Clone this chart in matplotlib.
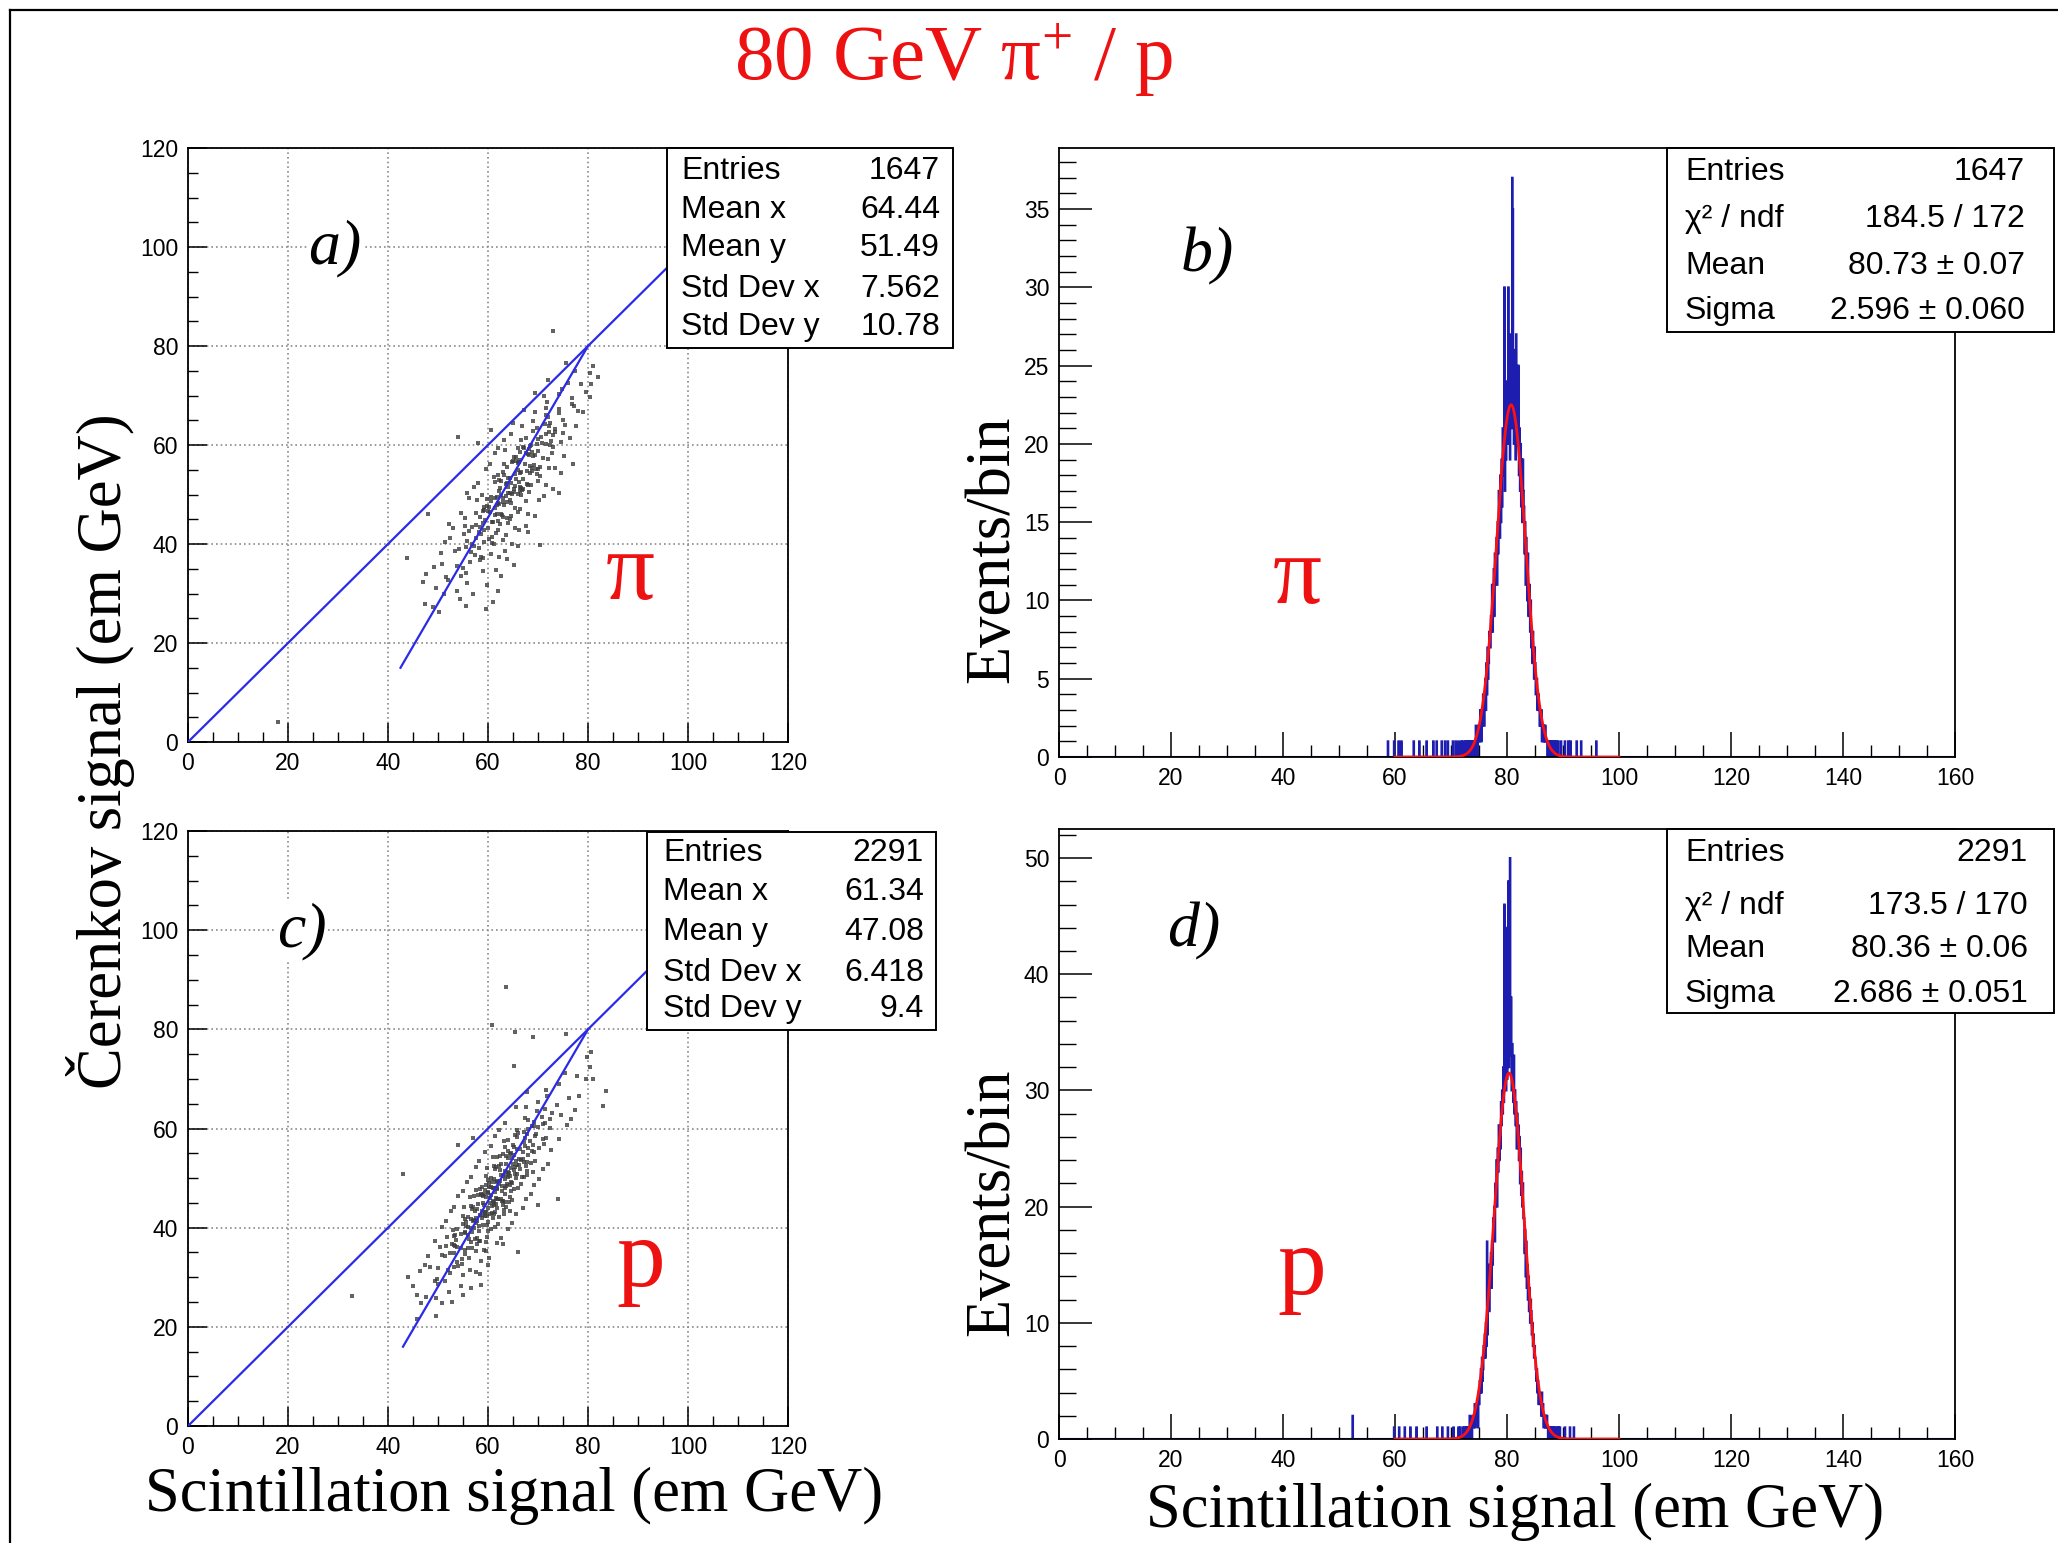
import numpy as np
import matplotlib
matplotlib.use('Agg')
import matplotlib.pyplot as plt
from matplotlib.ticker import MultipleLocator
from matplotlib.patches import Rectangle
from matplotlib.lines import Line2D

W, H = 2058, 1543
SERIF = 'Liberation Serif'
SANS = 'Liberation Sans'

plt.rcParams['font.family'] = SANS
plt.rcParams['mathtext.fontset'] = 'custom'
plt.rcParams['mathtext.rm'] = SERIF
plt.rcParams['mathtext.it'] = SERIF + ':italic'

# ---------------- data ----------------
# a) pion scatter, (scintillation, cerenkov) in em GeV
scatter_pi = [
    (50.2, 26.3), (48.9, 27.3), (54.3, 28.9), (51.2, 29.8), (53.8, 30.6), (49.5, 31.1), (55.8, 32.1), (51.9, 32.8),
    (54.5, 33.6), (59.0, 34.5), (51.5, 33.4), (55.6, 34.2),
    (55.0, 35.2), (58.4, 36.7), (50.8, 35.9), (56.3, 36.4), (53.7, 35.5),
    (60.6, 38.0), (56.5, 38.3), (58.6, 37.3), (54.1, 38.9), (57.3, 37.8), (53.4, 38.6), (58.9, 37.1),
    (56.7, 40.1), (63.0, 40.8), (57.1, 39.6), (59.2, 40.5), (55.5, 39.4), (60.8, 40.2), (58.2, 39.2), (55.7, 40.7), (61.1, 39.9),
    (58.1, 42.4), (60.7, 41.5), (55.2, 42.0), (61.5, 42.3), (57.6, 41.3), (59.1, 42.9), (63.6, 41.8), (56.1, 42.6), (60.2, 41.1),
    (58.5, 42.1), (61.9, 42.8),
    (55.4, 43.6), (60.9, 44.5), (58.3, 43.4), (64.0, 44.2), (59.9, 43.2), (62.0, 44.7), (57.5, 43.9), (60.7, 44.4), (56.8, 43.5),
    (62.3, 44.0), (59.0, 44.3), (65.3, 43.3), (59.4, 44.9),
    (62.7, 45.8), (59.0, 46.6), (64.3, 45.1), (61.7, 46.1), (59.2, 46.8), (64.6, 45.6), (60.4, 46.5), (63.0, 45.4), (57.5, 46.2),
    (63.8, 45.2), (59.9, 46.7), (61.4, 45.9), (65.9, 46.4), (58.4, 45.5), (62.5, 46.0),
    (61.9, 48.3), (65.3, 47.3), (57.7, 48.9), (63.2, 47.8), (60.6, 48.6), (66.3, 47.1), (62.2, 48.1), (64.3, 48.8), (59.8, 47.6),
    (63.0, 48.5), (59.1, 47.4), (64.6, 48.2), (61.3, 47.2), (67.6, 48.7), (61.7, 47.9), (63.8, 48.4), (60.1, 47.5),
    (66.5, 50.0), (63.9, 50.3), (61.4, 49.3), (66.8, 50.9), (62.6, 49.8), (65.2, 50.6), (59.7, 49.1), (66.0, 50.1), (62.1, 50.8),
    (63.6, 49.6), (68.1, 50.5), (60.6, 49.4), (64.7, 50.2), (63.0, 49.2), (66.4, 50.7), (58.8, 49.9), (64.3, 50.4), (61.7, 49.5),
    (68.6, 52.0), (64.5, 52.3), (66.6, 51.3), (62.1, 52.9), (65.3, 51.8), (61.4, 52.6), (66.9, 51.1), (63.6, 52.1), (69.9, 52.8),
    (64.0, 51.6), (66.1, 52.5), (62.4, 51.4), (67.7, 52.2), (65.1, 51.2), (62.6, 52.7), (68.0, 51.9), (63.8, 52.4), (66.4, 51.5),
    (62.0, 54.0), (68.3, 54.3), (64.4, 53.3), (65.9, 54.9), (70.4, 53.8), (62.9, 54.6), (67.0, 53.1), (65.3, 54.1), (68.7, 54.8),
    (61.1, 53.6), (66.6, 54.5), (64.0, 53.4), (69.7, 54.2), (65.6, 53.2), (67.7, 54.7), (63.2, 53.9), (66.4, 54.4),
    (63.7, 55.5), (69.2, 56.0), (65.9, 56.3), (72.2, 55.3), (66.3, 56.9), (68.4, 55.8), (64.7, 56.6), (70.0, 55.1), (67.4, 56.1),
    (64.9, 56.8), (70.3, 55.6), (66.1, 56.5), (68.7, 55.4), (63.2, 56.2), (69.5, 55.2), (65.6, 56.7),
    (68.2, 57.9), (72.7, 58.4), (65.2, 57.5), (69.3, 58.0), (67.6, 58.3), (71.0, 57.3), (63.4, 58.9), (68.9, 57.8), (66.3, 58.6),
    (72.0, 57.1), (67.9, 58.1), (70.0, 58.8), (65.5, 57.6), (68.7, 58.5),
    (66.0, 59.4), (71.5, 60.2), (68.2, 59.2), (74.5, 60.7), (68.6, 59.9), (70.7, 60.4), (67.0, 59.5), (72.3, 60.0), (69.7, 60.3),
    (67.2, 59.3), (72.6, 60.9), (68.4, 59.8),
    (72.1, 62.6), (66.6, 61.1), (72.9, 62.1), (69.0, 62.8), (70.5, 61.6), (75.0, 62.5), (67.5, 61.4), (71.6, 62.2), (69.9, 61.2),
    (73.3, 62.7),
    (66.8, 63.9), (72.3, 64.4), (69.7, 63.5), (75.4, 64.0), (71.3, 64.3), (73.4, 63.3), (68.9, 64.9), (72.1, 63.8),
    (69.4, 66.6), (74.9, 65.1), (71.6, 66.1), (77.9, 66.8), (72.0, 65.6), (74.1, 66.5),
    (71.5, 67.4), (76.8, 68.2), (74.2, 67.2), (71.7, 68.7), (77.1, 67.9),
    (74.1, 70.4), (76.7, 69.5), (71.2, 70.0),
    (78.6, 72.3), (74.7, 71.3), (77.4, 74.9), (81.9, 73.8), (75.5, 76.6),
    (80.3, 74.6), (80.6, 72.4), (79.6, 70.8),
    # wider halo around the core
    (47.0, 32.4), (59.8, 31.7), (49.2, 35.3), (61.5, 34.8), (47.5, 34.0), (50.5, 38.2), (63.4, 38.6), (62.2, 37.4),
    (51.3, 40.4), (64.7, 40.0), (52.4, 41.2), (65.9, 39.5), (53.0, 43.2), (66.2, 42.9), (52.2, 44.1), (67.6, 43.7),
    (54.6, 46.3), (68.0, 46.0), (55.4, 45.2), (69.3, 45.7), (56.1, 49.2), (70.2, 48.8), (55.7, 50.3), (71.1, 49.6),
    (58.0, 52.4), (71.6, 52.0), (57.2, 51.5), (72.9, 51.2), (59.5, 55.1), (73.4, 55.4), (60.3, 56.2), (74.6, 54.3),
    (61.4, 58.3), (75.1, 57.8), (62.0, 59.4), (63.2, 61.0), (76.3, 61.5), (64.5, 62.3), (65.0, 64.5), (77.6, 63.8),
    (67.2, 67.0), (79.0, 66.6), (69.3, 70.5), (80.4, 69.7), (72.0, 73.2), (80.9, 75.9),
    (57.0, 30.0), (55.5, 27.5), (62.0, 30.5), (63.8, 37.0), (68.0, 42.5), (58.0, 60.5), (60.5, 63.0), (76.0, 72.5),
    # isolated events
    (73.0, 83.1), (53.9, 61.7), (47.9, 46.1), (43.7, 37.2), (18.0, 4.0), (60.9, 28.3), (59.6, 26.8), (76.9, 56.2),
    (74.2, 50.3), (70.4, 39.8), (65.2, 35.7), (73.0, 59.6), (47.3, 27.8), (62.6, 33.6),
]

# c) proton scatter
scatter_p = [
    (45.8, 21.5), (50.8, 24.8), (49.5, 25.9), (45.7, 26.4), (52.2, 27.1), (50.0, 28.6), (54.5, 28.2),
    (49.3, 29.3), (52.4, 30.9), (49.8, 29.7), (54.9, 30.5), (51.4, 29.2),
    (48.4, 32.1), (54.7, 32.7), (51.9, 31.4), (54.0, 32.3), (49.9, 31.8), (53.2, 32.0), (56.4, 31.5),
    (52.3, 34.8), (56.1, 33.9), (50.8, 34.4), (53.8, 33.1), (55.4, 34.6), (51.3, 34.2), (58.6, 33.3), (53.2, 34.9), (54.8, 33.7),
    (53.1, 36.5), (57.6, 35.2), (53.8, 36.1), (57.7, 36.7), (55.3, 35.4), (51.5, 36.3), (56.8, 35.8), (54.6, 36.0), (59.1, 35.5),
    (52.8, 36.8), (55.9, 35.9), (53.3, 36.4),
    (59.5, 37.1), (56.0, 38.6), (51.8, 38.2), (58.1, 37.3), (55.3, 38.9), (57.4, 37.7), (53.3, 38.5), (56.6, 37.2), (59.8, 38.1),
    (54.6, 38.7), (58.4, 37.4), (53.1, 38.3), (56.1, 37.8), (57.7, 38.0), (53.6, 37.5),
    (62.0, 40.8), (56.6, 39.9), (58.2, 40.4), (55.3, 39.1), (59.8, 40.6), (56.0, 40.2), (59.9, 39.3), (57.5, 40.9), (53.7, 39.7),
    (59.0, 40.5), (56.8, 39.2), (61.3, 40.1), (55.0, 40.7), (58.1, 39.4), (55.5, 40.3), (60.6, 39.8), (57.1, 40.0), (52.9, 39.5),
    (60.4, 42.8), (57.6, 41.9), (59.7, 42.4), (55.6, 41.1), (58.9, 42.6), (62.1, 42.2), (56.9, 41.3), (60.7, 42.9), (55.4, 41.7),
    (58.4, 42.5), (60.0, 41.2), (55.9, 42.1), (63.2, 42.7), (57.8, 41.4), (59.4, 42.3), (56.5, 41.8), (61.0, 42.0), (57.2, 41.5),
    (61.1, 42.8), (58.7, 41.9), (54.9, 42.4),
    (61.3, 43.1), (59.1, 44.6), (63.6, 44.2), (57.3, 43.3), (60.4, 44.9), (57.8, 43.7), (62.9, 44.5), (59.4, 43.2), (55.2, 44.1),
    (61.5, 44.7), (58.7, 43.4), (60.8, 44.3), (56.7, 43.8), (60.0, 44.0), (63.2, 43.5), (58.0, 44.8), (61.8, 43.9), (56.5, 44.4),
    (59.5, 43.1), (61.1, 44.6), (57.0, 44.2), (64.3, 43.3), (58.9, 44.9),
    (61.7, 45.7), (58.8, 46.5), (63.3, 45.2), (59.5, 46.1), (63.4, 46.7), (61.0, 45.4), (57.2, 46.3), (62.5, 45.8), (60.3, 46.0),
    (64.8, 45.5), (58.5, 46.8), (61.6, 45.9), (59.0, 46.4), (64.1, 45.1), (60.6, 46.6), (56.4, 46.2), (62.7, 45.3), (59.9, 46.9),
    (62.0, 45.7), (57.9, 46.5), (61.2, 45.2), (64.4, 46.1), (59.2, 46.7), (63.0, 45.4),
    (58.8, 48.3), (61.8, 47.8), (63.4, 48.0), (59.3, 47.5), (66.6, 48.8), (61.2, 47.9), (62.8, 48.4), (59.9, 47.1), (64.4, 48.6),
    (60.6, 48.2), (64.5, 47.3), (62.1, 48.9), (58.3, 47.7), (63.6, 48.5), (61.4, 47.2), (65.9, 48.1), (59.6, 48.7), (62.7, 47.4),
    (60.1, 48.3), (65.2, 47.8), (61.7, 48.0), (57.5, 47.5), (63.8, 48.8), (61.0, 47.9),
    (64.3, 50.4), (60.2, 49.1), (63.5, 50.6), (66.7, 50.2), (61.5, 49.3), (65.3, 50.9), (60.0, 49.7), (63.0, 50.5), (64.6, 49.2),
    (60.5, 50.1), (67.8, 50.7), (62.4, 49.4), (64.0, 50.3), (61.1, 49.8), (65.6, 50.0), (61.8, 49.5), (65.7, 50.8), (63.3, 49.9),
    (59.5, 50.4), (64.8, 49.1), (62.6, 50.6), (67.1, 50.2), (60.8, 49.3),
    (65.0, 52.9), (62.4, 51.7), (67.5, 52.5), (64.0, 51.2), (59.8, 52.1), (66.1, 52.7), (63.3, 51.4), (65.4, 52.3), (61.3, 51.8),
    (64.6, 52.0), (67.8, 51.5), (62.6, 52.8), (66.4, 51.9), (61.1, 52.4), (64.1, 51.1), (65.7, 52.6), (61.6, 52.2), (68.9, 51.3),
    (63.5, 52.9), (65.1, 51.7), (62.2, 52.5),
    (67.8, 53.2), (64.0, 54.1), (67.9, 54.7), (65.5, 53.4), (61.7, 54.3), (67.0, 53.8), (64.8, 54.0), (69.3, 53.5), (63.0, 54.8),
    (66.1, 53.9), (63.5, 54.4), (68.6, 53.1), (65.1, 54.6), (60.9, 54.2), (67.2, 53.3), (64.4, 54.9), (66.5, 53.7), (62.4, 54.5),
    (66.9, 55.2), (70.1, 56.1), (64.9, 56.7), (68.7, 55.4), (63.4, 56.3), (66.4, 55.8), (68.0, 56.0), (63.9, 55.5), (71.2, 56.8),
    (65.8, 55.9), (67.4, 56.4), (64.5, 55.1), (69.0, 56.6), (65.2, 56.2), (69.1, 55.3),
    (67.8, 58.9), (64.0, 57.7), (69.3, 58.5), (67.1, 57.2), (71.6, 58.1), (65.3, 58.7), (68.4, 57.4), (65.8, 58.3), (70.9, 57.8),
    (67.4, 58.0), (63.2, 57.5), (69.5, 58.8),
    (67.9, 59.9), (70.0, 60.4), (65.9, 59.1), (69.2, 60.6), (72.4, 60.2), (67.2, 59.3), (71.0, 60.9), (65.7, 59.7), (68.7, 60.5),
    (71.4, 61.2), (67.3, 62.1), (74.6, 62.7), (69.2, 61.4), (70.8, 62.3), (67.9, 61.8), (72.4, 62.0),
    (69.8, 63.5), (73.7, 64.8), (71.3, 63.9), (67.5, 64.4), (72.8, 63.1),
    (71.7, 66.6), (76.2, 66.2), (69.9, 65.3), (74.1, 68.9), (71.5, 67.7), (77.8, 70.5), (75.4, 71.2), (79.8, 74.5),
    # wider halo around the core
    (45.0, 28.3), (56.5, 27.8), (46.4, 31.2), (58.3, 30.7), (47.3, 32.5), (47.9, 34.3), (60.2, 33.8), (59.5, 35.2),
    (49.4, 37.4), (61.8, 36.9), (50.3, 36.2), (62.6, 38.0), (50.8, 40.2), (63.9, 39.7), (51.6, 41.3), (64.8, 40.9),
    (52.6, 43.3), (65.6, 42.8), (53.1, 44.2), (66.9, 43.9), (54.0, 46.4), (67.5, 45.8), (54.9, 47.3), (68.6, 46.7),
    (55.8, 49.2), (69.1, 48.7), (56.6, 50.3), (70.2, 49.8), (57.5, 52.3), (70.9, 51.8), (58.2, 53.4), (72.0, 52.9),
    (59.4, 55.2), (72.6, 55.7), (60.6, 56.5), (61.3, 58.4), (74.2, 57.9), (62.2, 59.6), (63.4, 61.2), (75.8, 60.8),
    (65.6, 64.3), (77.3, 63.7), (67.8, 67.4), (78.2, 66.5),
    (47.5, 26.0), (52.8, 25.0), (55.0, 26.5), (60.0, 32.5), (63.0, 36.8), (57.0, 58.0), (76.5, 62.0), (70.0, 44.5),
    # isolated events
    (63.5, 88.5), (60.8, 80.8), (65.3, 79.5), (69.0, 78.5), (75.5, 79.0), (80.5, 75.5), (80.3, 72.5), (79.5, 70.0),
    (83.5, 67.5), (83.0, 64.5), (81.0, 70.0), (32.7, 26.3), (42.9, 50.8), (53.9, 56.6), (65.2, 72.6), (73.9, 45.8),
    (49.6, 22.2), (65.9, 35.1), (44.0, 30.0), (46.5, 24.8), (57.5, 31.0), (58.5, 28.5),
]

# blue reference lines on the scatter plots (start/end points)
diag_pi = ([0, 96], [0, 96])
cut_pi = ([42.5, 80], [15, 80])
diag_p = ([0, 92], [0, 92])
cut_p = ([43, 80], [16, 80])

# b), d) histograms: 0.1 GeV bins, core counts from 72.0 to 90.0 GeV
bin_width = 0.1
core_start = 72.0
hist_pi_core = [
    0, 1, 0, 0, 0, 1, 0, 0, 1, 0,
    1, 0, 1, 0, 1, 0, 1, 1, 0, 1,
    1, 0, 1, 0, 2, 1, 1, 0, 2, 1,
    2, 1, 3, 2, 1, 3, 2, 4, 3, 2,
    4, 5, 3, 6, 4, 7, 5, 6, 8, 7,
    7, 9, 8, 11, 8, 10, 12, 9, 13, 11,
    12, 14, 11, 15, 13, 17, 16, 14, 18, 15,
    19, 16, 21, 18, 20, 30, 17, 22, 19, 24,
    23, 20, 30, 22, 26, 19, 27, 24, 21, 37,
    35, 24, 20, 26, 22, 19, 27, 21, 23, 20,
    25, 18, 21, 17, 20, 16, 19, 15, 19, 17,
    16, 13, 15, 11, 14, 12, 10, 13, 9, 11,
    11, 8, 10, 7, 8, 6, 8, 6, 5, 7,
    6, 4, 5, 5, 3, 4, 4, 3, 2, 3,
    2, 3, 1, 2, 2, 1, 2, 1, 2, 1,
    1, 1, 0, 1, 1, 0, 1, 0, 1, 0,
    1, 0, 0, 1, 0, 1, 0, 0, 1, 0,
    0, 1, 0, 0, 0, 0, 1, 0, 0, 0,
]
hist_pi_tail = [58.75, 59.85, 60.65, 61.15, 63.35, 64.35, 65.65, 66.85, 67.45, 68.35, 68.95,
                69.45, 70.35, 70.85, 71.35, 71.85, 90.35, 90.95, 91.35, 92.45, 93.25, 95.95]

hist_p_core = [
    0, 1, 0, 0, 1, 0, 0, 1, 0, 1,
    1, 0, 1, 2, 0, 1, 1, 0, 2, 1,
    1, 2, 3, 1, 2, 3, 2, 3, 1, 4,
    3, 5, 4, 6, 4, 7, 5, 6, 8, 7,
    9, 7, 10, 8, 17, 9, 12, 15, 11, 13,
    14, 16, 13, 17, 15, 19, 18, 20, 17, 22,
    21, 24, 20, 25, 23, 27, 24, 26, 25, 29,
    27, 30, 28, 32, 29, 46, 31, 44, 30, 34,
    31, 36, 48, 32, 35, 50, 33, 38, 30, 34,
    31, 29, 33, 28, 30, 27, 29, 25, 28, 26,
    27, 24, 26, 22, 25, 21, 23, 20, 22, 19,
    19, 16, 18, 14, 17, 13, 15, 12, 14, 11,
    13, 10, 12, 11, 9, 10, 8, 9, 7, 8,
    7, 6, 5, 6, 4, 5, 3, 4, 4, 3,
    3, 2, 4, 2, 3, 1, 2, 2, 1, 2,
    1, 2, 1, 0, 1, 1, 1, 0, 1, 0,
    1, 0, 1, 1, 0, 1, 0, 0, 0, 1,
    0, 1, 0, 0, 1, 0, 0, 0, 0, 0,
]
hist_p_tail = [52.45, 52.45, 59.85, 60.75, 61.75, 62.75, 63.85, 65.65, 67.55, 68.45, 69.45,
               70.45, 71.35, 71.65, 90.35, 91.25, 91.95]

# gaussian fit parameters (constant, mean, sigma) and fit range
fit_pi = (22.5, 80.73, 2.596)
fit_p = (31.5, 80.36, 2.686)
fit_range = (60, 100)

stats_a = [('Entries', '1647'), ('Mean x', '64.44'), ('Mean y', '51.49'),
           ('Std Dev x', '7.562'), ('Std Dev y', '10.78')]
stats_b = [('Entries', '1647'), ('χ² / ndf', '184.5 / 172'),
           ('Mean', '80.73 ± 0.07'), ('Sigma', '2.596 ± 0.060')]
stats_c = [('Entries', '2291'), ('Mean x', '61.34'), ('Mean y', '47.08'),
           ('Std Dev x', '6.418'), ('Std Dev y', '9.4')]
stats_d = [('Entries', '2291'), ('χ² / ndf', '173.5 / 170'),
           ('Mean', '80.36 ± 0.06'), ('Sigma', '2.686 ± 0.051')]


def fx(px):
    return px / W


def fy(py):
    return 1 - py / H


def style_axes(ax, xmax, ymax, xmaj, xmin, ymaj, ymin, ylen, xlen, grid=False):
    ax.set_xlim(0, xmax)
    ax.set_ylim(0, ymax)
    ax.xaxis.set_major_locator(MultipleLocator(xmaj))
    ax.xaxis.set_minor_locator(MultipleLocator(xmin))
    ax.yaxis.set_major_locator(MultipleLocator(ymaj))
    ax.yaxis.set_minor_locator(MultipleLocator(ymin))
    ax.tick_params(axis='x', which='major', direction='in', length=xlen, width=1.1, labelsize=16.5, pad=7)
    ax.tick_params(axis='x', which='minor', direction='in', length=xlen / 2, width=1.0)
    ax.tick_params(axis='y', which='major', direction='in', length=ylen, width=1.1, labelsize=16.5, pad=7)
    ax.tick_params(axis='y', which='minor', direction='in', length=ylen / 2, width=1.0)
    for sp in ax.spines.values():
        sp.set_linewidth(1.3)
    if grid:
        ax.grid(True, which='major', color='#8a8a8a', linestyle=(0, (1, 1.8)), linewidth=1.2)


def stat_box(box, rows, lab_x, val_x, row_y, fs=23):
    x0, y0, x1, y1 = box
    fig.add_artist(Rectangle((fx(x0), fy(y1)), (x1 - x0) / W, (y1 - y0) / H,
                             transform=fig.transFigure, facecolor='white',
                             edgecolor='black', linewidth=1.4, zorder=10))
    for (lab, val), yy in zip(rows, row_y):
        fig.text(fx(lab_x), fy(yy), lab, ha='left', va='center', fontsize=fs, family=SANS, zorder=11)
        fig.text(fx(val_x), fy(yy), val, ha='right', va='center', fontsize=fs, family=SANS, zorder=11)


def histogram(core, tail):
    edges = np.arange(0, 160 + bin_width / 2, bin_width)
    counts = np.zeros(len(edges) - 1)
    i0 = int(round(core_start / bin_width))
    counts[i0:i0 + len(core)] = core
    for x in tail:
        counts[int(np.floor(x / bin_width + 1e-9))] += 1
    return counts, edges


fig = plt.figure(figsize=(W / 100, H / 100), dpi=100)

# outer frame
fig.add_artist(Line2D([fx(10), 1.0], [fy(10), fy(10)], transform=fig.transFigure, color='black', lw=1.6))
fig.add_artist(Line2D([fx(10), fx(10)], [fy(10), 0.0], transform=fig.transFigure, color='black', lw=1.6))

ax_a = fig.add_axes([fx(188), fy(742), 600 / W, (742 - 148) / H])
ax_b = fig.add_axes([fx(1059), fy(757), 896 / W, (757 - 148) / H])
ax_c = fig.add_axes([fx(188), fy(1426), 600 / W, (1426 - 831) / H])
ax_d = fig.add_axes([fx(1059), fy(1439), 896 / W, (1439 - 829) / H])

dot_color = '#3c3c3c'
line_blue = '#2a2ae8'
hist_blue = '#1d1db0'

# scatter panels
for ax, pts, diag, cut, lab, part, part_xy in [
        (ax_a, scatter_pi, diag_pi, cut_pi, 'a)', 'π', (88.5, 33.5)),
        (ax_c, scatter_p, diag_p, cut_p, 'c)', 'p', (90.5, 33.0))]:
    style_axes(ax, 120, 120, 20, 5, 20, 5, 14, 14, grid=True)
    xs, ys = zip(*pts)
    ax.plot(xs, ys, 's', ms=2.3, mew=0, color=dot_color, alpha=0.8, zorder=3)
    ax.plot(diag[0], diag[1], color=line_blue, lw=1.6, zorder=4)
    ax.plot(cut[0], cut[1], color=line_blue, lw=1.6, zorder=4)
    lx = 29.4 if lab == 'a)' else 22.8
    ax.text(lx, 99.7, lab, ha='center', va='center', fontsize=46, family=SERIF, style='italic',
            bbox=dict(facecolor='white', edgecolor='none', pad=1.0), zorder=5)
    ax.text(part_xy[0], part_xy[1], part, ha='center', va='center', fontsize=70, family=SERIF,
            color='#ee1111', zorder=5)

# histogram panels
for ax, core, tail, fit, ymax, ymaj, ymin, lab, lab_xy, part, part_xy, ylab_y in [
        (ax_b, hist_pi_core, hist_pi_tail, fit_pi, 38.9, 5, 1, 'b)', (26.4, 32.0), 'π', (42.6, 11.3), 549),
        (ax_d, hist_p_core, hist_p_tail, fit_p, 52.5, 10, 2, 'd)', (24.1, 43.7), 'p', (43.3, 14.5), 1202)]:
    style_axes(ax, 160, ymax, 20, 5, ymaj, ymin, 24, 18)
    counts, edges = histogram(core, tail)
    ax.stairs(counts, edges, color=hist_blue, lw=1.5, zorder=2.2)
    const, mean, sigma = fit
    fx_pts = np.linspace(fit_range[0], fit_range[1], 801)
    ax.plot(fx_pts, const * np.exp(-0.5 * ((fx_pts - mean) / sigma) ** 2), color='#ff1010', lw=2.0, zorder=4)
    ax.text(lab_xy[0], lab_xy[1], lab, ha='center', va='center', fontsize=46, family=SERIF, style='italic')
    ax.text(part_xy[0], part_xy[1], part, ha='center', va='center', fontsize=70, family=SERIF, color='#ee1111')
    fig.text(fx(993), fy(ylab_y), 'Events/bin', rotation=90, ha='center', va='center',
             fontsize=45, family=SERIF)

# stat boxes
stat_box((667, 148, 953, 348), stats_a, 681, 940, [171, 210, 248, 289, 327])
stat_box((1667, 148, 2054, 332), stats_b, 1685, 2025, [172, 219, 266, 311])
stat_box((647, 832, 936, 1030), stats_c, 663, 924, [853, 892, 932, 973, 1009])
stat_box((1667, 829, 2054, 1013), stats_d, 1685, 2028, [853, 906, 949, 994])

# axis titles
fig.text(fx(101), fy(751), 'Čerenkov signal (em GeV)', rotation=90, ha='center', va='center',
         fontsize=45, family=SERIF)
fig.text(fx(514), fy(1496), 'Scintillation signal (em GeV)', ha='center', va='center',
         fontsize=45, family=SERIF)
fig.text(fx(1515), fy(1512), 'Scintillation signal (em GeV)', ha='center', va='center',
         fontsize=45, family=SERIF)

# title
fig.text(fx(953), fy(60), r'$\mathrm{80\ GeV\ \pi^{+}\ /\ p}$', ha='center', va='center',
         fontsize=57, color='#ee1111')

fig.savefig('out.png', dpi=100)
